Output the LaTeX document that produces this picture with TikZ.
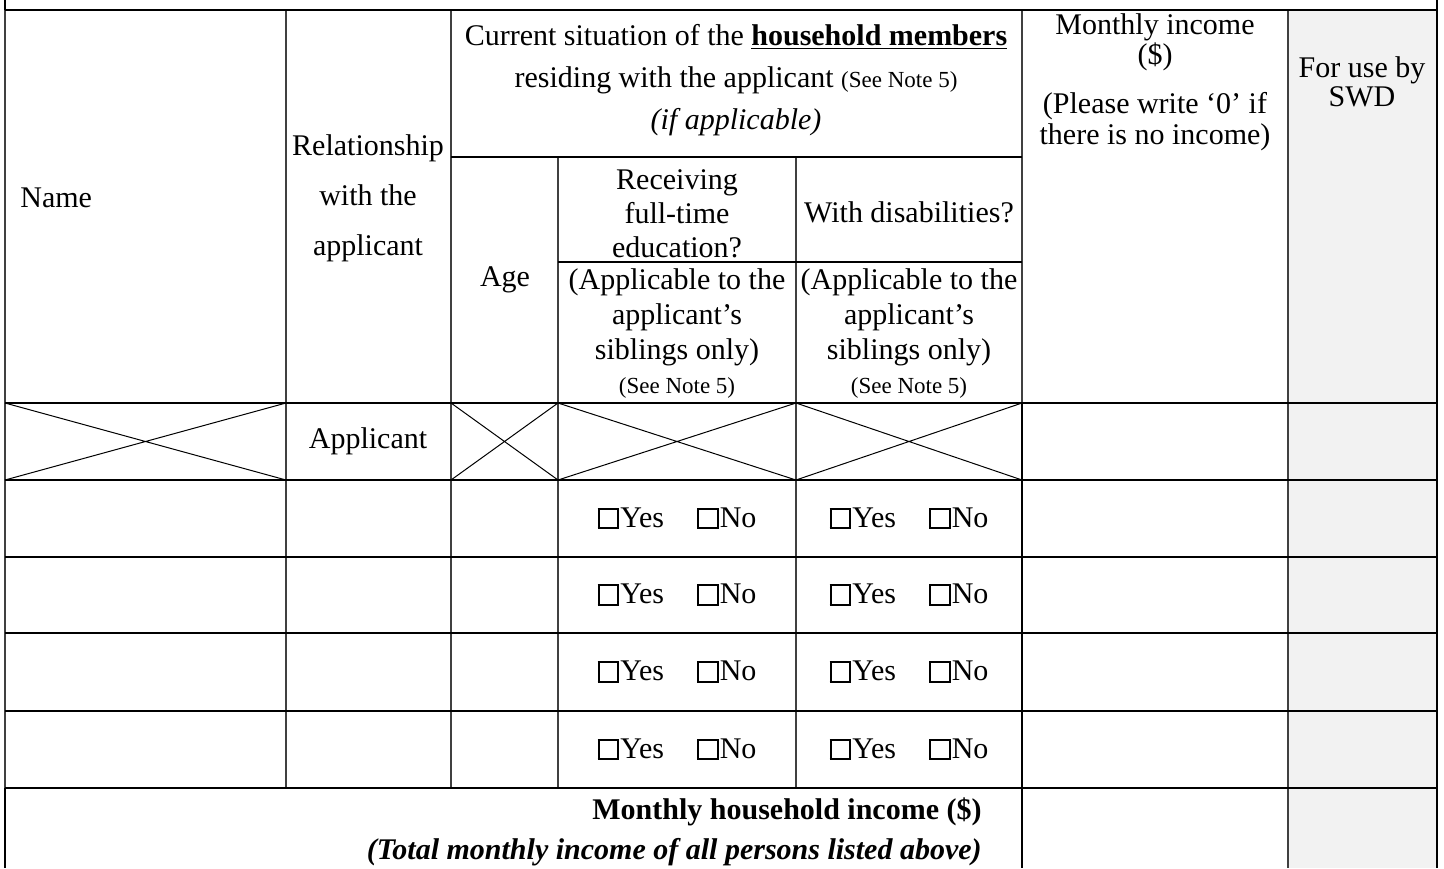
\documentclass[tikz,border=0pt]{standalone}
\usepackage{fontspec}
\setmainfont{Liberation Serif}
\definecolor{swdgray}{HTML}{F2F2F2}
\newcommand{\chkbox}{{\setlength{\fboxsep}{0pt}\setlength{\fboxrule}{1.1pt}\fbox{\rule{0pt}{0.58em}\rule{0.58em}{0pt}}}\kern0.5pt}
\newcommand{\yesno}{\chkbox Yes\hspace{1.1em}\chkbox No}
\newcommand{\fs}[1]{\fontsize{15}{#1}\selectfont}
\begin{document}
\begin{tikzpicture}[x=0.5pt,y=-0.5pt,
    rowline/.style={line width=1pt},
    colline/.style={line width=0.7pt,draw=black!75},
    crossline/.style={line width=0.5pt},
    cell/.style={align=center,inner sep=0pt,font=\fs{17.5}},
    smallnote/.style={inner sep=0pt,font=\fontsize{11.5}{13}\selectfont}]

    \useasboundingbox (0,0) rectangle (1444,868);
    \fill[swdgray] (1288,10) rectangle (1437,868);

    % columns
    \draw[colline] (5,10) to (5,788);
    \draw[colline] (286,10) to (286,788);
    \draw[colline] (451,10) to (451,788);
    \draw[colline] (558,157) to (558,788);
    \draw[colline] (796,157) to (796,788);
    \draw[colline] (1022,10) to (1022,403);
    \draw[colline] (1288,10) to (1288,868);
    \draw[rowline] (1022,403) to (1022,868);
    \draw[rowline] (5,0) to (5,10);
    \draw[rowline] (5,788) to (5,868);
    \draw[rowline] (1437,0) to (1437,868);

    % rows
    \draw[rowline] (5,10) to (1437,10);
    \draw[rowline] (451,157) to (1022,157);
    \draw[rowline] (558,262) to (1022,262);
    \foreach \y in {403,480,557,633,711,788}
        \draw[rowline] (5,\y) to (1437,\y);

    % crossed cells of the applicant
    \foreach \a/\b in {5/286,451/558,558/796,796/1022}
        \draw[crossline] (\a,403) to (\b,480) (\a,480) to (\b,403);

    % header
    \node[cell,anchor=west] (name) at (20,198) {Name};
    \node[cell,font=\fs{25}] (rel) at (368,198) {Relationship\\with the\\applicant};
    \node[cell,font=\fs{21}] (situation) at (736,80)
        {Current situation of the \textbf{\underline{household members}}\\
         residing with the applicant {\fontsize{11.5}{13}\selectfont(See Note 5)}\\
         \textit{(if applicable)}};
    \node[cell] (age) at (505,280) {Age};
    \node[cell,font=\fs{17}] (study) at (677,214) {Receiving\\full-time\\education?};
    \node[cell] (disab) at (909,212) {With disabilities?};
    \node[cell] (studyonly) at (677,317) {(Applicable to the\\applicant's\\siblings only)};
    \node[smallnote] (studynote) at (677,388) {(See Note 5)};
    \node[cell] (disabonly) at (909,317) {(Applicable to the\\applicant's\\siblings only)};
    \node[smallnote] (disabnote) at (909,388) {(See Note 5)};
    \node[cell,font=\fs{15}] (income) at (1155,42) {Monthly income\\(\$)};
    \node[cell,font=\fs{15.5}] (incomenote) at (1155,122) {(Please write `0' if\\there is no income)};
    \node[cell,font=\fs{14.5}] (swd) at (1362,82) {For use by\\SWD};

    % body
    \node[cell] (applicant) at (368,441.5) {Applicant};
    \foreach \y [count=\i] in {518.5,595,672,749.5}{
        \node[cell] (study\i) at (677,\y) {\yesno};
        \node[cell] (disab\i) at (909,\y) {\yesno};
    }
    \node[cell,anchor=east,align=right,font=\fs{20}] (total) at (982,832)
        {\textbf{Monthly household income (\$)}\\
         \textbf{\textit{(Total monthly income of all persons listed above)}}};

\end{tikzpicture}
\end{document}
